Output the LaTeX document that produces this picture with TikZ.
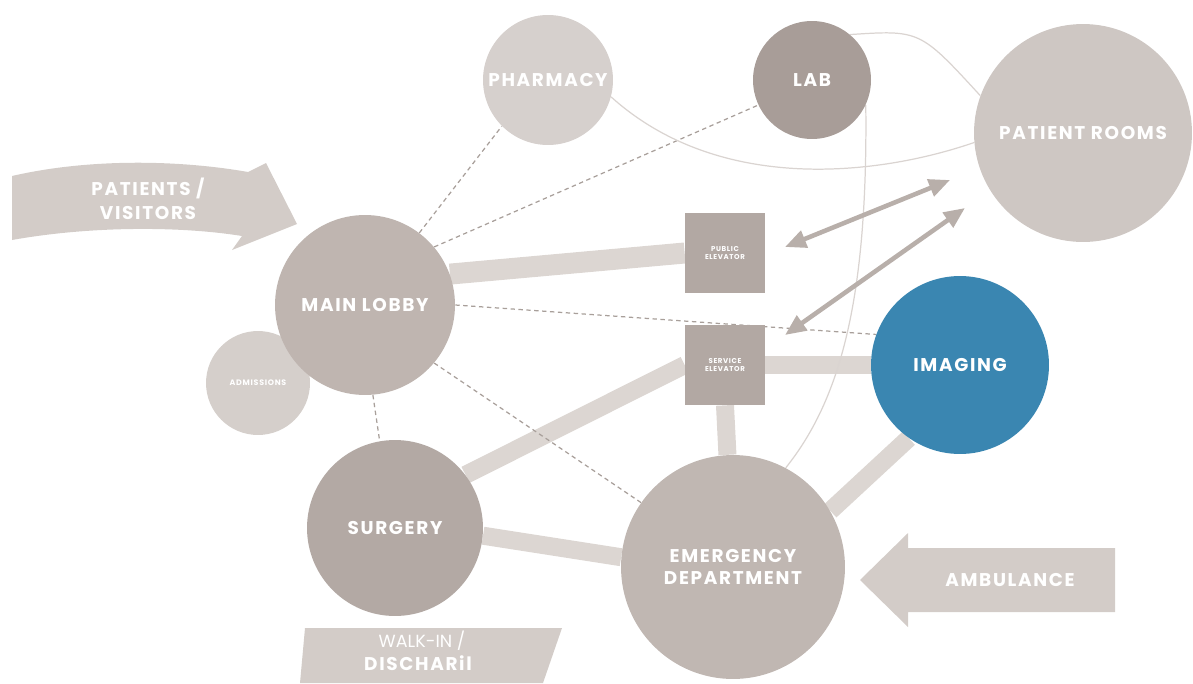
\documentclass[tikz,border=0pt]{standalone}
\usepackage{xcolor}
\usepackage{fontspec}
\setmainfont{Poppins}[LetterSpace=9]
\newfontfamily\plainfont{Poppins}
\usetikzlibrary{arrows.meta,backgrounds}

\definecolor{pharmc}{HTML}{D6D0CD}
\definecolor{labc}{HTML}{A89D98}
\definecolor{roomc}{HTML}{CEC7C3}
\definecolor{lobbyc}{HTML}{BFB5B0}
\definecolor{admc}{HTML}{D5CFCB}
\definecolor{surgc}{HTML}{B3A9A4}
\definecolor{edc}{HTML}{C0B7B2}
\definecolor{liftc}{HTML}{B2A8A3}
\definecolor{imgc}{HTML}{3A86B1}
\definecolor{bandc}{HTML}{DCD6D2}
\definecolor{flowc}{HTML}{D3CCC8}
\definecolor{dashc}{HTML}{A89F9A}
\definecolor{faintc}{HTML}{DAD4D1}
\definecolor{arrc}{HTML}{B8AFAA}

\begin{document}
\begin{tikzpicture}[x=0.02cm,y=-0.02cm,
    room/.style={circle, inner sep=0pt, text=white, align=center,
      font=\bfseries\fontsize{10.5}{13}\selectfont},
    lift/.style={rectangle, inner sep=0pt, minimum size=1.6cm, fill=liftc,
      text=white, align=center, font=\bfseries\fontsize{4}{5}\selectfont},
    band/.style={draw=bandc, line width=0.36cm},
    walkway/.style={draw=dashc, line width=0.7pt, dash pattern=on 2.5pt off 2pt},
    faint/.style={draw=faintc, line width=0.7pt},
    twoway/.style={draw=arrc, line width=2.6pt,
      {Triangle[length=12pt,width=10pt]}-{Triangle[length=12pt,width=10pt]}},
    flowtxt/.style={text=white, align=center,
      font=\bfseries\fontsize{10.5}{13.5}\selectfont}]
  \useasboundingbox (0,0) rectangle (1193,683);%

  % departments
  \node[room, minimum size=2.6cm, fill=pharmc] (pharmacy) at (548,80) {PHARMACY};%
  \node[room, minimum size=2.36cm, fill=labc] (lab) at (812,80) {LAB};%
  \node[room, minimum size=4.36cm, fill=roomc] (prooms) at (1083,133) {PATIENT ROOMS};%
  \node[room, minimum size=2.08cm, fill=admc,
    font=\bfseries\fontsize{4.5}{5}\selectfont] (admissions) at (258,383) {ADMISSIONS};%
  \node[room, minimum size=3.6cm, fill=lobbyc] (lobby) at (365,305) {MAIN LOBBY};%
  \node[lift] (pubelev) at (725,253) {PUBLIC\\ELEVATOR};%
  \node[lift] (serelev) at (725,365) {SERVICE\\ELEVATOR};%
  \node[room, minimum size=3.56cm, fill=imgc] (imaging) at (960,365) {IMAGING};%
  \node[room, minimum size=3.52cm, fill=surgc] (surgery) at (395,528) {SURGERY};%
  \node[room, minimum size=4.48cm, fill=edc] (ed) at (733,567) {EMERGENCY\\DEPARTMENT};%

  \coordinate (pa_1) at (785,247); \coordinate (pa_2) at (950,180);%
  \coordinate (sa_1) at (785,335); \coordinate (sa_2) at (965,208);%

  \begin{scope}[on background layer]
    \draw[band, line width=0.42cm] (lobby.20) -- (pubelev.west);%
    \draw[band] (surgery.37) -- (serelev.west);%
    \draw[band] (serelev.east) -- (imaging.west);%
    \draw[band] (serelev.south) -- (ed);%
    \draw[band] (imaging.235) -- (ed.30);%
    \draw[band] (surgery.-5) -- (ed.175);%

    \draw[walkway] (lobby.53) -- (pharmacy.225);%
    \draw[walkway] (lobby.40) -- (lab.205);%
    \draw[walkway] (lobby.east) -- (imaging.160);%
    \draw[walkway] (lobby.-40) -- (ed.145);%
    \draw[walkway] (lobby.-85) -- (surgery.100);%

    \draw[faint] (pharmacy.-15) .. controls (720,195) and (880,175) .. (prooms.185);%
    \draw[faint] (lab.50) .. controls (920,30) .. (prooms.160);%
    \draw[faint] (lab.-25) .. controls (868,300) and (840,400) .. (ed.62);%
  \end{scope}

  \draw[twoway] (pa_1) -- (pa_2);%
  \draw[twoway] (sa_1) -- (sa_2);%

  % arrivals
  \fill[flowc] (12,176) .. controls (90,158) and (180,160) .. (248,172)
    -- (266,163) -- (297,224) -- (232,250) -- (242,236)
    .. controls (180,226) and (90,226) .. (12,240) -- cycle;%
  \node[flowtxt] (visitors) at (148,199) {PATIENTS /\\VISITORS};%

  \fill[flowc] (1115,548) -- (908,548) -- (908,533) -- (860,580)
    -- (908,627) -- (908,612) -- (1115,612) -- cycle;%
  \node[flowtxt] (ambulance) at (1010,580) {AMBULANCE};%

  \fill[flowc] (305,628) -- (562,628) -- (543,683) -- (300,683) -- cycle;%
  \node[flowtxt, font=\plainfont\fontsize{10}{12}\selectfont] (walkin) at (422,641) {WALK-IN /};%
  \node[flowtxt] (discharge) at (418,663) {DISCHARil};%
\end{tikzpicture}
\end{document}
